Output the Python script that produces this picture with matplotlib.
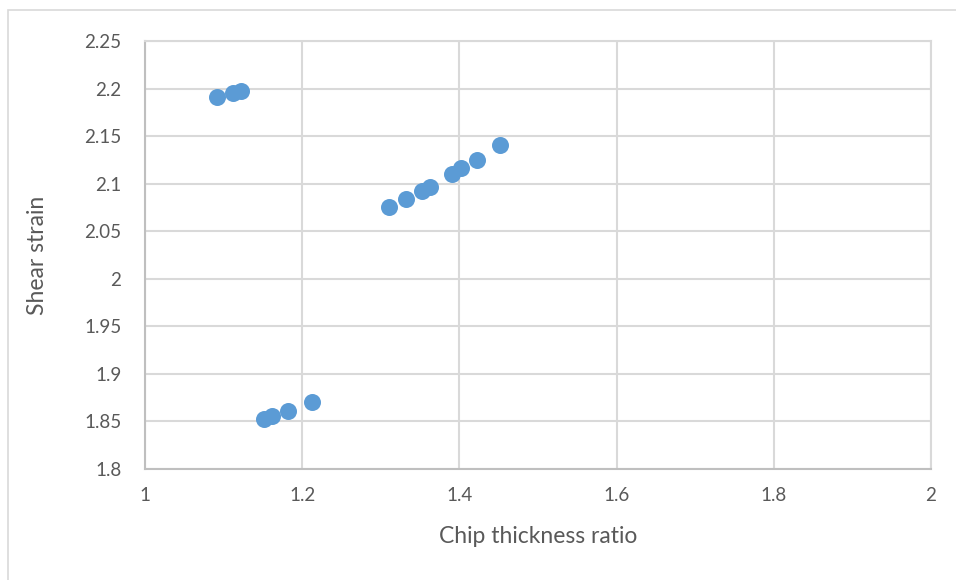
import matplotlib.pyplot as plt
from matplotlib.patches import Rectangle

# Datos
chip_ratio = [1.092, 1.112, 1.122,
              1.311, 1.332, 1.352, 1.362, 1.391, 1.402, 1.422, 1.452,
              1.151, 1.161, 1.182, 1.212]
shear_strain = [2.191, 2.195, 2.197,
                2.075, 2.084, 2.092, 2.097, 2.110, 2.116, 2.125, 2.141,
                1.853, 1.856, 1.861, 1.870]

x_ticks = [1, 1.2, 1.4, 1.6, 1.8, 2]
y_ticks = [1.8, 1.85, 1.9, 1.95, 2, 2.05, 2.1, 2.15, 2.2, 2.25]

plt.rcParams['font.family'] = ['Lato', 'DejaVu Sans']
gris_txt = "#595959"
gris_grid = "#D9D9D9"

fig = plt.figure(figsize=(9.56, 5.8), dpi=100)
ax = fig.add_axes([0.1517, 0.1914, 0.8221, 0.7379])

# marco exterior del gráfico (derecha/abajo quedan fuera de la imagen)
fig.patches.append(Rectangle((0.008, -0.05), 1.1, 1.033, transform=fig.transFigure,
                             fill=False, edgecolor=gris_grid, linewidth=1.2))

ax.scatter(chip_ratio, shear_strain, s=150, color="#5B9BD5", zorder=3, linewidths=0)

ax.set_xlim(1, 2)
ax.set_ylim(1.8, 2.25)
ax.set_xticks(x_ticks)
ax.set_xticklabels([f"{v:g}" for v in x_ticks])
ax.set_yticks(y_ticks)
ax.set_yticklabels([f"{v:g}" for v in y_ticks])
ax.grid(True, color=gris_grid, linewidth=1.5)
ax.set_axisbelow(True)
ax.tick_params(length=0, labelsize=13.5, labelcolor=gris_txt)
ax.tick_params(axis="y", pad=17)
ax.tick_params(axis="x", pad=13)
for lado in ["top", "right"]:
    ax.spines[lado].set_color(gris_grid)
    ax.spines[lado].set_linewidth(1.5)
for lado in ["left", "bottom"]:
    ax.spines[lado].set_color("#BFBFBF")
    ax.spines[lado].set_linewidth(1.5)

ax.set_xlabel("Chip thickness ratio", fontsize=16.5, color=gris_txt, labelpad=16)
ax.set_ylabel("Shear strain", fontsize=16.5, color=gris_txt, labelpad=26)

fig.savefig("out.png", dpi=100)
